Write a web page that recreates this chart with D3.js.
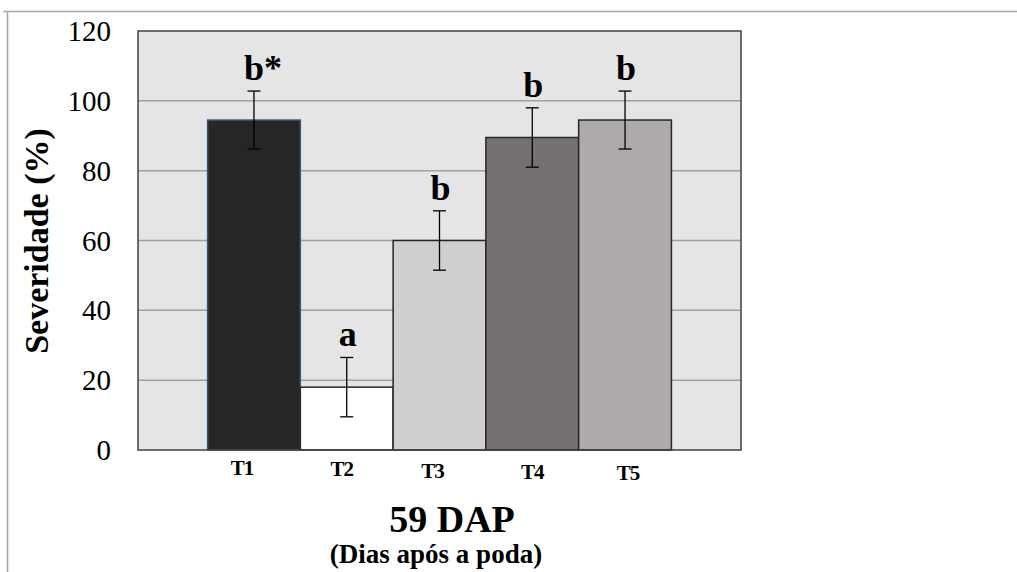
<!DOCTYPE html>
<html>
<head>
<meta charset="utf-8">
<script src="https://cdn.jsdelivr.net/npm/d3@7"></script>
<style>
  body { margin: 0; background: #fff; }
  svg { display: block; }
  svg text { font-family: "Liberation Serif", "Times New Roman", serif !important; }
</style>
</head>
<body>
<div id="chart"></div>
<script>
const categories = ['T1', 'T2', 'T3', 'T4', 'T5'];
const severity = [94.5, 18, 60, 89.5, 94.5];
const errors = [8.3, 8.5, 8.5, 8.5, 8.3];
const letters = ['b*', 'a', 'b', 'b', 'b'];
const barColors = ['#262626', '#ffffff', '#d0cece', '#767171', '#aeaaaa'];
const yTicks = [0, 20, 40, 60, 80, 100, 120];

const width = 1017;
const height = 572;
const plot = { left: 138, right: 741, top: 31, bottom: 450 };
const serif = '"Liberation Serif", "Times New Roman", serif';
// small hand nudges of the tick labels, as in the original figure
const tickNudge = [-12, -5, -7, 0, 3];

const svg = d3.select('#chart')
    .append('svg')
    .attr('width', width)
    .attr('height', height)
    .attr('font-family', serif);

// outer frame lines (page edge)
svg.append('line')
    .attr('x1', 3).attr('x2', width).attr('y1', 11.5).attr('y2', 11.5)
    .attr('stroke', '#a6a6a6').attr('stroke-width', 1.5);
svg.append('line')
    .attr('x1', 7.5).attr('x2', 7.5).attr('y1', 11).attr('y2', height)
    .attr('stroke', '#a6a6a6').attr('stroke-width', 1.5);

const x = d3.scaleBand()
    .domain(categories)
    .range([plot.left, plot.right])
    .paddingInner(0)
    .paddingOuter(0.75);

const y = d3.scaleLinear()
    .domain([0, 120])
    .range([plot.bottom, plot.top]);

// plot background
svg.append('rect')
    .attr('x', plot.left).attr('y', plot.top)
    .attr('width', plot.right - plot.left)
    .attr('height', plot.bottom - plot.top)
    .attr('fill', '#e5e5e5');

// gridlines
svg.append('g')
    .selectAll('line')
    .data(yTicks.filter(t => t > 0 && t < 120))
    .join('line')
    .attr('x1', plot.left).attr('x2', plot.right)
    .attr('y1', d => y(d)).attr('y2', d => y(d))
    .attr('stroke', '#a0a0a0').attr('stroke-width', 1.5);

// bars
svg.append('g')
    .selectAll('rect')
    .data(categories)
    .join('rect')
    .attr('x', d => x(d))
    .attr('y', (d, i) => y(severity[i]))
    .attr('width', x.bandwidth())
    .attr('height', (d, i) => y(0) - y(severity[i]))
    .attr('fill', (d, i) => barColors[i])
    .attr('stroke', (d, i) => i === 0 ? '#3b5785' : '#262626')
    .attr('stroke-width', 1.5);

// plot border
svg.append('rect')
    .attr('x', plot.left).attr('y', plot.top)
    .attr('width', plot.right - plot.left)
    .attr('height', plot.bottom - plot.top)
    .attr('fill', 'none')
    .attr('stroke', '#404040').attr('stroke-width', 1.5);

// error bars
const err = svg.append('g').attr('stroke', '#000').attr('stroke-width', 1.3);
categories.forEach((c, i) => {
    const cx = x(c) + x.bandwidth() / 2;
    const hi = y(severity[i] + errors[i]);
    const lo = y(severity[i] - errors[i]);
    err.append('line').attr('x1', cx).attr('x2', cx).attr('y1', hi).attr('y2', lo);
    err.append('line').attr('x1', cx - 6.5).attr('x2', cx + 6.5).attr('y1', hi).attr('y2', hi);
    err.append('line').attr('x1', cx - 6.5).attr('x2', cx + 6.5).attr('y1', lo).attr('y2', lo);
});

// significance letters (the letter itself is centred on the bar)
svg.append('g')
    .selectAll('text')
    .data(categories)
    .join('text')
    .attr('x', (d, i) => x(d) + x.bandwidth() / 2 + (letters[i].includes('*') ? -10 : 1))
    .attr('y', (d, i) => y(severity[i] + errors[i]) - 11)
    .attr('text-anchor', (d, i) => letters[i].includes('*') ? 'start' : 'middle')
    .attr('font-size', 36)
    .attr('font-weight', 'bold')
    .text((d, i) => letters[i]);

// y tick labels
svg.append('g')
    .selectAll('text')
    .data(yTicks)
    .join('text')
    .attr('x', 111)
    .attr('y', d => y(d))
    .attr('dy', '0.35em')
    .attr('text-anchor', 'end')
    .attr('font-size', 29)
    .text(d => d);

// x tick labels
svg.append('g')
    .selectAll('text')
    .data(categories)
    .join('text')
    .attr('x', (d, i) => x(d) + x.bandwidth() / 2 + tickNudge[i])
    .attr('y', (d, i) => 475 + i * 1.3)
    .attr('text-anchor', 'middle')
    .attr('font-size', 21)
    .attr('font-weight', 'bold')
    .attr('letter-spacing', -1)
    .text(d => d);

// y axis title
svg.append('text')
    .attr('transform', 'translate(48,241) rotate(-90)')
    .attr('text-anchor', 'middle')
    .attr('font-size', 34)
    .attr('font-weight', 'bold')
    .text('Severidade (%)');

// x axis titles
svg.append('text')
    .attr('x', 452).attr('y', 532)
    .attr('text-anchor', 'middle')
    .attr('font-size', 38)
    .attr('font-weight', 'bold')
    .text('59 DAP');

svg.append('text')
    .attr('x', 436).attr('y', 563)
    .attr('text-anchor', 'middle')
    .attr('font-size', 27)
    .attr('font-weight', 'bold')
    .text('(Dias após a poda)');
</script>
</body>
</html>
